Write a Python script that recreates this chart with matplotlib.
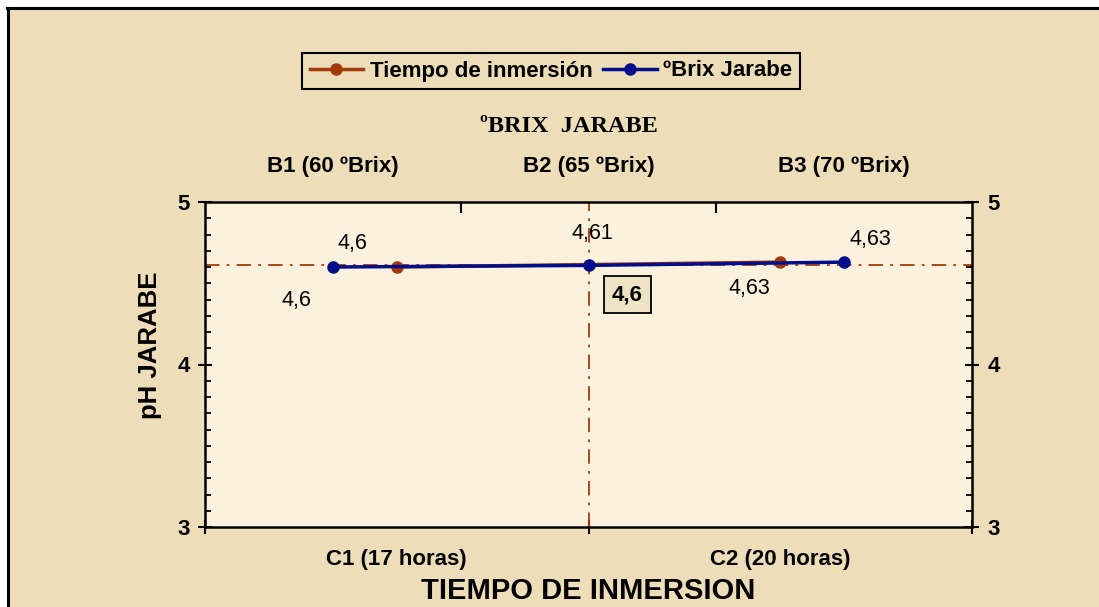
import matplotlib
matplotlib.use("Agg")
import matplotlib.pyplot as plt
from matplotlib.patches import Rectangle
from matplotlib.lines import Line2D
from matplotlib.ticker import MultipleLocator, FixedLocator

# ---- data ----
tiempo_cats = ["C1 (17 horas)", "C2 (20 horas)"]
tiempo_vals = [4.60, 4.63]
brix_cats = ["B1 (60 ºBrix)", "B2 (65 ºBrix)", "B3 (70 ºBrix)"]
brix_vals = [4.60, 4.61, 4.63]
tiempo_labels = ["4,6", "4,63"]
brix_labels = ["4,6", "4,61", "4,63"]
grand_mean = 4.61
grand_mean_label = "4,6"
y_ticks = [3, 4, 5]

BROWN = "#A33A0A"
BLUE = "#000E8C"
BG = "#EDDDB9"
PLOT_BG = "#FBF1DC"

plt.rcParams['font.family'] = ['Liberation Sans', 'DejaVu Sans']

fig = plt.figure(figsize=(10.99, 6.07), dpi=100)
fig.patch.set_facecolor(BG)
W, H = 1099, 607
# white margin + black border on left/top
fig.add_artist(Rectangle((0, 0), 8 / W, 1, transform=fig.transFigure,
                         facecolor="white", edgecolor="none", zorder=-10))
fig.add_artist(Rectangle((0, (H - 8) / H), 1, 8 / H, transform=fig.transFigure,
                         facecolor="white", edgecolor="none", zorder=-10))
fig.add_artist(Line2D([8 / W, 8 / W], [0, (H - 8) / H], transform=fig.transFigure,
                      color="black", lw=2.2, zorder=-9))
fig.add_artist(Line2D([7 / W, 1], [(H - 8) / H, (H - 8) / H], transform=fig.transFigure,
                      color="black", lw=2.2, zorder=-9))

left, right, top, bottom = 205, 972, 202, 527
ax = fig.add_axes([left / W, 1 - bottom / H, (right - left) / W, (bottom - top) / H])
ax.set_facecolor(PLOT_BG)
ax.set_xlim(0, len(tiempo_cats))
ax.set_ylim(3, 5)

TICK_FS = 16
DATA_FS = 15.5

# bottom axis (tiempo)
ax.xaxis.set_major_locator(FixedLocator(range(len(tiempo_cats) + 1)))
ax.xaxis.set_minor_locator(FixedLocator([i + 0.5 for i in range(len(tiempo_cats))]))
ax.set_xticklabels([""] * (len(tiempo_cats) + 1))
ax.set_xticklabels(tiempo_cats, minor=True, fontsize=TICK_FS, fontweight="bold")
ax.tick_params(axis="x", which="major", direction="inout", length=10, width=1.5)
ax.tick_params(axis="x", which="minor", length=0, pad=16)

# y axes
ax.yaxis.set_major_locator(FixedLocator(y_ticks))
ax.yaxis.set_minor_locator(MultipleLocator(0.1))
ax.tick_params(axis="y", which="major", direction="inout", length=10, width=1.5,
               left=True, right=True, labelleft=True, labelright=True,
               labelsize=TICK_FS, pad=6)
ax.tick_params(axis="y", which="minor", direction="in", length=4, width=1.3,
               left=True, right=True)
for lab in ax.get_yticklabels():
    lab.set_fontweight("bold")

for s in ax.spines.values():
    s.set_linewidth(1.8)

ax.set_xlabel("TIEMPO DE INMERSION", fontsize=21, fontweight="bold", labelpad=5)
ax.set_ylabel("pH JARABE", fontsize=18.5, fontweight="bold")
ax.yaxis.set_label_coords((162 - left) / (right - left), (bottom - 345) / (bottom - top))

# top axis (brix)
axt = ax.twiny()
axt.set_xlim(0, len(brix_cats))
axt.xaxis.set_major_locator(FixedLocator(range(1, len(brix_cats))))
axt.xaxis.set_minor_locator(FixedLocator([i + 0.5 for i in range(len(brix_cats))]))
axt.set_xticklabels([""] * (len(brix_cats) - 1))
axt.set_xticklabels(brix_cats, minor=True, fontsize=TICK_FS, fontweight="bold")
axt.tick_params(axis="x", which="major", direction="in", length=8, width=1.5)
axt.tick_params(axis="x", which="minor", length=0, pad=18)
axt.set_xlabel("ºBRIX  JARABE", fontsize=17.5, fontweight="bold",
               family=["Liberation Serif"])
axt.xaxis.set_label_coords((569 - left) / (right - left), (bottom - 132) / (bottom - top))
for s in axt.spines.values():
    s.set_visible(False)

# reference lines
ax.axhline(grand_mean, color=BROWN, lw=1.3, ls=(0, (8, 4, 1.5, 4)), zorder=2)
ax.axvline(len(tiempo_cats) / 2, color=BROWN, lw=1.3, ls=(0, (8, 4, 1.5, 4)), zorder=2)

# series
tx = [i + 0.5 for i in range(len(tiempo_cats))]
bx = [i + 0.5 for i in range(len(brix_cats))]
l1, = ax.plot(tx, tiempo_vals, color=BROWN, lw=2.5, marker="o", ms=8, zorder=4,
              label="Tiempo de inmersión")
l2, = axt.plot(bx, brix_vals, color=BLUE, lw=2.5, marker="o", ms=8, zorder=5,
               label="ºBrix Jarabe")

# data labels
ax.annotate(tiempo_labels[0], (tx[0], tiempo_vals[0]), xytext=(-72, -24),
            textcoords="offset points", fontsize=DATA_FS, ha="center", va="center")
ax.annotate(tiempo_labels[1], (tx[1], tiempo_vals[1]), xytext=(-22, -19),
            textcoords="offset points", fontsize=DATA_FS, ha="center", va="center")
axt.annotate(brix_labels[0], (bx[0], brix_vals[0]), xytext=(14, 17),
             textcoords="offset points", fontsize=DATA_FS, ha="center", va="center")
axt.annotate(brix_labels[1], (bx[1], brix_vals[1]), xytext=(3, 23),
             textcoords="offset points", fontsize=DATA_FS, ha="center", va="center")
axt.annotate(brix_labels[2], (bx[2], brix_vals[2]), xytext=(19, 16),
             textcoords="offset points", fontsize=DATA_FS, ha="center", va="center")

# grand mean box
ax.annotate(grand_mean_label, (len(tiempo_cats) / 2, grand_mean), xytext=(28, -21),
            textcoords="offset points", fontsize=16, fontweight="bold",
            ha="center", va="center",
            bbox=dict(boxstyle="square,pad=0.35", fc="#EFE3C6", ec="black", lw=1.3))

leg = fig.legend(handles=[l1, l2], loc="center", bbox_to_anchor=(551 / W, 1 - 71 / H),
                 ncol=2, fontsize=16, frameon=True, fancybox=False, edgecolor="black",
                 facecolor=BG, framealpha=1, handlelength=2.4, columnspacing=0.5,
                 handletextpad=0.3, borderpad=0.35)
leg.get_frame().set_linewidth(1.5)
for t in leg.get_texts():
    t.set_fontweight("bold")

fig.savefig("out.png", dpi=100, facecolor=fig.get_facecolor())
